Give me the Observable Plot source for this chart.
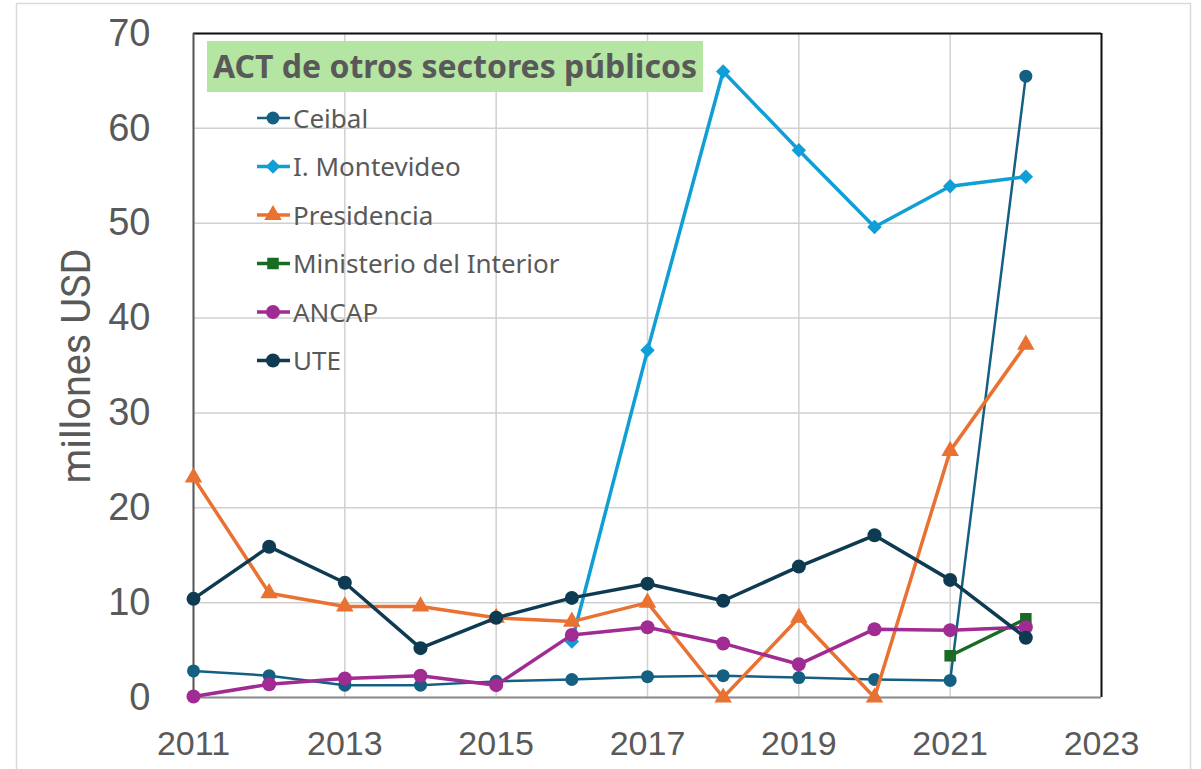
<!DOCTYPE html>
<html>
<head>
<meta charset="utf-8">
<script src="https://cdn.jsdelivr.net/npm/d3@7"></script>
<script src="https://cdn.jsdelivr.net/npm/@observablehq/plot@0.6"></script>
<style>
  html, body { margin: 0; padding: 0; background: #fff; }
  #chart { position: relative; width: 1201px; height: 769px; }
</style>
</head>
<body>
<div id="chart"></div>
<script>
// ---- Data ----
const years = [2011, 2012, 2013, 2014, 2015, 2016, 2017, 2018, 2019, 2020, 2021, 2022];
const seriesNames = ["Ceibal", "I. Montevideo", "Presidencia", "Ministerio del Interior", "ANCAP", "UTE"];
const ceibal      = [2.8, 2.3, 1.3, 1.3, 1.7, 1.9, 2.2, 2.3, 2.1, 1.9, 1.8, 65.5];
const montevideo  = [null, null, null, null, null, 5.9, 36.6, 66.0, 57.7, 49.6, 53.9, 54.9];
const presidencia = [23.2, 11.0, 9.6, 9.6, 8.4, 8.0, 10.0, 0, 8.4, 0, 26.0, 37.2];
const ministerio  = [null, null, null, null, null, null, null, null, null, null, 4.4, 8.3];
const ancap       = [0.1, 1.4, 2.0, 2.3, 1.3, 6.6, 7.4, 5.7, 3.5, 7.2, 7.1, 7.4];
const ute         = [10.4, 15.9, 12.1, 5.2, 8.4, 10.5, 12.0, 10.2, 13.8, 17.1, 12.4, 6.3];
const xTicks = [2011, 2013, 2015, 2017, 2019, 2021, 2023];
const yTicks = [0, 10, 20, 30, 40, 50, 60, 70];
const titleText = "ACT de otros sectores públicos";
const yLabel = "millones USD";

// ---- Styles ----
const colors  = ["#156082", "#0F9ED5", "#E97132", "#196B24", "#A02B93", "#0E3A52"];
const symbols = ["circle", "diamond2", "triangle", "square", "circle", "circle"];
const widths  = [2.5, 3.5, 3.5, 3.5, 3.5, 3.5];
const radii   = [6.5, 6.5, 6.5, 6.5, 7, 7];

const allSeries = [ceibal, montevideo, presidencia, ministerio, ancap, ute];
const rows = [];
allSeries.forEach((vals, si) => {
  vals.forEach((v, i) => {
    if (v !== null) rows.push({series: seriesNames[si], year: years[i], value: v});
  });
});

const marginLeft = 193, marginRight = 100, marginTop = 33, marginBottom = 72;
const textColor = "#595959";

const seriesMarks = [];
seriesNames.forEach((name, si) => {
  const d = rows.filter(r => r.series === name);
  seriesMarks.push(Plot.line(d, {x: "year", y: "value", stroke: colors[si], strokeWidth: widths[si]}));
  seriesMarks.push(Plot.dot(d, {x: "year", y: "value", fill: colors[si], stroke: "none", symbol: () => symbols[si], r: radii[si]}));
});

const svg = Plot.plot({
  width: 1201,
  height: 769,
  marginLeft, marginRight, marginTop, marginBottom,
  style: {background: "transparent", fontFamily: "'Liberation Sans', Arial, sans-serif"},
  x: {domain: [2011, 2023]},
  y: {domain: [0, 70]},
  symbol: {type: "identity"},
  marks: [
    Plot.gridY(yTicks, {stroke: "#d0d0d0", strokeOpacity: 1, strokeWidth: 1.5}),
    Plot.gridX(xTicks, {stroke: "#d0d0d0", strokeOpacity: 1, strokeWidth: 1.5}),
    Plot.ruleY([70], {stroke: "#111", strokeWidth: 2}),
    Plot.ruleX([2023], {stroke: "#111", strokeWidth: 2}),
    Plot.ruleY([0], {stroke: "#8c8c8c", strokeWidth: 2}),
    Plot.ruleX([2011], {stroke: "#595959", strokeWidth: 2}),
    Plot.axisY(yTicks, {tickSize: 0, tickPadding: 43, fontSize: 38, fill: textColor, label: null}),
    Plot.axisX(xTicks, {tickSize: 0, tickPadding: 33, fontSize: 34, fill: textColor, label: null, tickFormat: d => String(d)}),
    ...seriesMarks
  ]
});

const root = d3.select(svg);

// outer light border
root.insert("rect", ":first-child")
  .attr("x", 16.5).attr("y", 3.5).attr("width", 1174).attr("height", 780)
  .attr("fill", "none").attr("stroke", "#d9d9d9").attr("stroke-width", 1.5);

// y axis title
root.append("text")
  .attr("transform", "translate(90,366) rotate(-90)")
  .attr("text-anchor", "middle")
  .attr("font-family", "Roboto, 'Noto Sans', sans-serif")
  .attr("font-size", 40)
  .attr("fill", textColor)
  .attr("textLength", 235)
  .attr("lengthAdjust", "spacingAndGlyphs")
  .text(yLabel);

// title box
root.append("rect")
  .attr("x", 207).attr("y", 41).attr("width", 496).attr("height", 51)
  .attr("fill", "#b4e5a2");
root.append("text")
  .attr("x", 213).attr("y", 78)
  .attr("text-anchor", "start")
  .attr("font-family", "'Noto Sans', 'Open Sans', sans-serif")
  .attr("font-weight", "bold")
  .attr("font-size", 33)
  .attr("fill", textColor)
  .attr("textLength", 484)
  .attr("lengthAdjust", "spacingAndGlyphs")
  .text(titleText);

// legend
const sym = {
  circle: d3.symbolCircle, diamond2: d3.symbolDiamond2, triangle: d3.symbolTriangle, square: d3.symbolSquare
};
seriesNames.forEach((name, si) => {
  const cy = 118 + si * 48.5;
  const g = root.append("g");
  g.append("line").attr("x1", 257).attr("x2", 290).attr("y1", cy).attr("y2", cy)
    .attr("stroke", colors[si]).attr("stroke-width", widths[si]);
  const r = radii[si];
  g.append("path")
    .attr("transform", `translate(273,${cy})`)
    .attr("d", d3.symbol(sym[symbols[si]], Math.PI * r * r)())
    .attr("fill", colors[si]);
  g.append("text")
    .attr("x", 293).attr("y", cy + 9.5)
    .attr("text-anchor", "start")
    .attr("font-family", "'Noto Sans', 'Open Sans', sans-serif")
    .attr("font-size", 26)
    .attr("fill", textColor)
    .text(name);
});

document.getElementById("chart").appendChild(svg);
</script>
</body>
</html>
